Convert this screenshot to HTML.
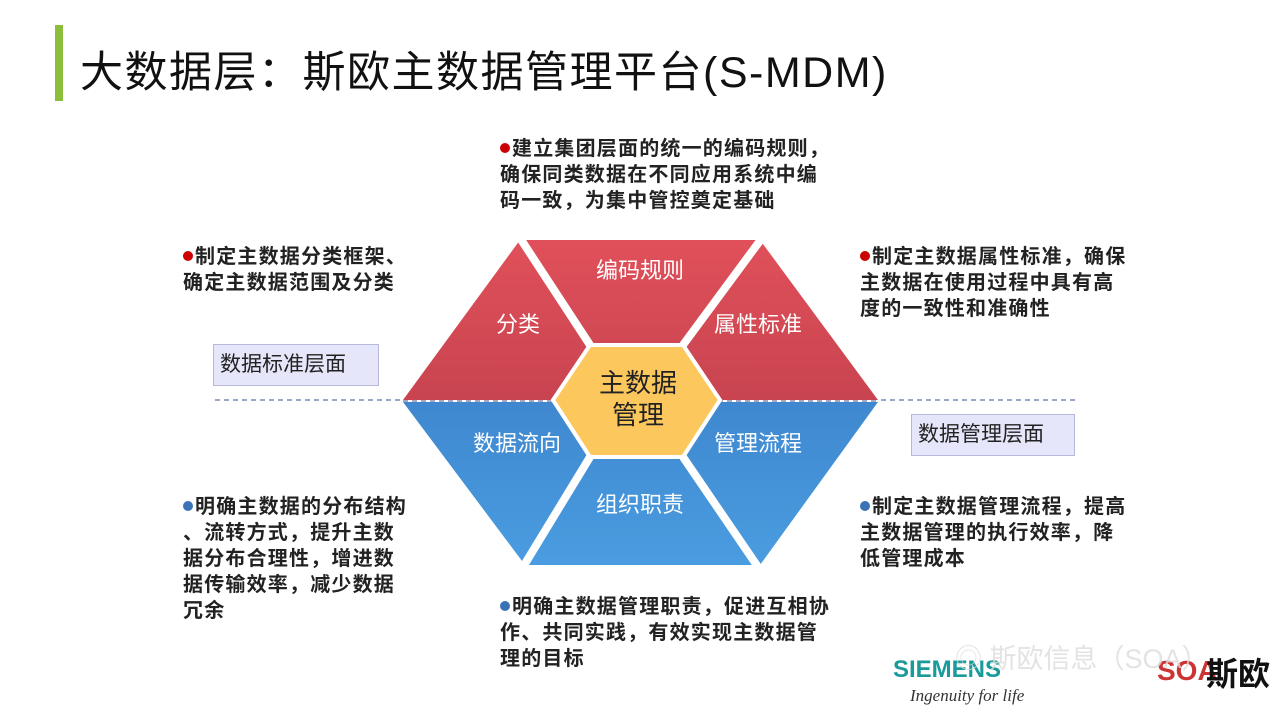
<!DOCTYPE html>
<html><head><meta charset="utf-8"><style>
body{margin:0;width:1280px;height:720px;background:#fff;position:relative;overflow:hidden;font-family:"Liberation Sans","Noto Sans CJK SC",sans-serif}
.t{position:absolute;font-weight:bold;font-size:20px;letter-spacing:1.2px;line-height:26px;color:#222;white-space:nowrap}
.r::before,.b::before{content:"";display:inline-block;width:10px;height:10px;border-radius:50%;margin-right:2px;vertical-align:2px}
.r::before{background:#c00}
.b::before{background:#3b74b6}
.box{position:absolute;background:#e6e6fa;border:1px solid #b8b8d8;font-size:21px;color:#222;padding:0 6px;line-height:40px}
</style></head><body>
<div style="position:absolute;left:55px;top:25px;width:8px;height:76px;background:#8cbe3c"></div>
<div style="position:absolute;left:80px;top:38px;font-size:43px;letter-spacing:1.5px;color:#111;white-space:nowrap">大数据层：斯欧主数据管理平台(S-MDM)</div>

<div class="t r" style="left:500px;top:136px">建立集团层面的统一的编码规则，<br>确保同类数据在不同应用系统中编<br>码一致，为集中管控奠定基础</div>
<div class="t r" style="left:183px;top:244px">制定主数据分类框架、<br>确定主数据范围及分类</div>
<div class="t r" style="left:860px;top:244px">制定主数据属性标准，确保<br>主数据在使用过程中具有高<br>度的一致性和准确性</div>
<div class="t b" style="left:183px;top:494px">明确主数据的分布结构<br>、流转方式，提升主数<br>据分布合理性，增进数<br>据传输效率，减少数据<br>冗余</div>
<div class="t b" style="left:860px;top:494px">制定主数据管理流程，提高<br>主数据管理的执行效率，降<br>低管理成本</div>
<div class="t b" style="left:500px;top:594px">明确主数据管理职责，促进互相协<br>作、共同实践，有效实现主数据管<br>理的目标</div>

<div class="box" style="left:213px;top:344px;width:152px">数据标准层面</div>
<div class="box" style="left:911px;top:414px;width:150px">数据管理层面</div>

<svg style="position:absolute;left:0;top:0" width="1280" height="720">
<defs>
<linearGradient id="rd" x1="0" y1="0" x2="0" y2="1"><stop offset="0" stop-color="#e0505a"/><stop offset="1" stop-color="#c84450"/></linearGradient>
<linearGradient id="bl" x1="0" y1="0" x2="0" y2="1"><stop offset="0" stop-color="#3f88d0"/><stop offset="1" stop-color="#4a9ce0"/></linearGradient>
</defs>
<line x1="215" y1="400" x2="1075" y2="400" stroke="#7a8ab8" stroke-width="1.5" stroke-dasharray="5,4"/>
<polygon points="520,240 760,240 878,400 403,400" fill="url(#rd)"/>
<polygon points="403,402 878,402 760,565 525,565" fill="url(#bl)"/>
<g stroke="#fff" stroke-width="8">
<line x1="590" y1="345" x2="520" y2="238"/>
<line x1="683" y1="345" x2="762" y2="238"/>
<line x1="590" y1="457" x2="523" y2="567"/>
<line x1="683" y1="457" x2="758" y2="567"/>
</g>
<line x1="400" y1="401" x2="880" y2="401" stroke="#fff" stroke-width="2"/>
<line x1="403" y1="401" x2="878" y2="401" stroke="#8a8ab0" stroke-width="1.5" stroke-dasharray="5,4"/>
<polygon points="590,345 683,345 720,400 683,457 590,457 553,400" fill="#fcc85e" stroke="#fff" stroke-width="4"/>
<g font-family="Liberation Sans,Noto Sans CJK SC,sans-serif" font-size="22" fill="#fff" text-anchor="middle">
<text x="640" y="278">编码规则</text>
<text x="518" y="332">分类</text>
<text x="758" y="332">属性标准</text>
<text x="517" y="451">数据流向</text>
<text x="758" y="451">管理流程</text>
<text x="640" y="512">组织职责</text>
</g>
<g font-family="Liberation Sans,Noto Sans CJK SC,sans-serif" font-size="26" fill="#222" text-anchor="middle">
<text x="638" y="392">主数据</text>
<text x="638" y="424">管理</text>
</g>
<text x="893" y="677" font-family="Liberation Sans,sans-serif" font-weight="bold" font-size="24" fill="#1a9a9a">SIEMENS</text>
<text x="910" y="701" font-family="Liberation Serif,serif" font-style="italic" font-size="17" fill="#333">Ingenuity for life</text>
<text x="1157" y="680" font-family="Liberation Sans,sans-serif" font-weight="bold" font-size="28" fill="#c33">SOA</text>
<text x="1206" y="685" font-family="Liberation Sans,Noto Sans CJK SC,sans-serif" font-weight="bold" font-size="32" fill="#111">斯欧</text>
<text x="955" y="668" font-family="Liberation Sans,Noto Sans CJK SC,sans-serif" font-size="27" fill="#ddd" opacity="0.8">◎ 斯欧信息（SOA）</text>
</svg>
</body></html>
